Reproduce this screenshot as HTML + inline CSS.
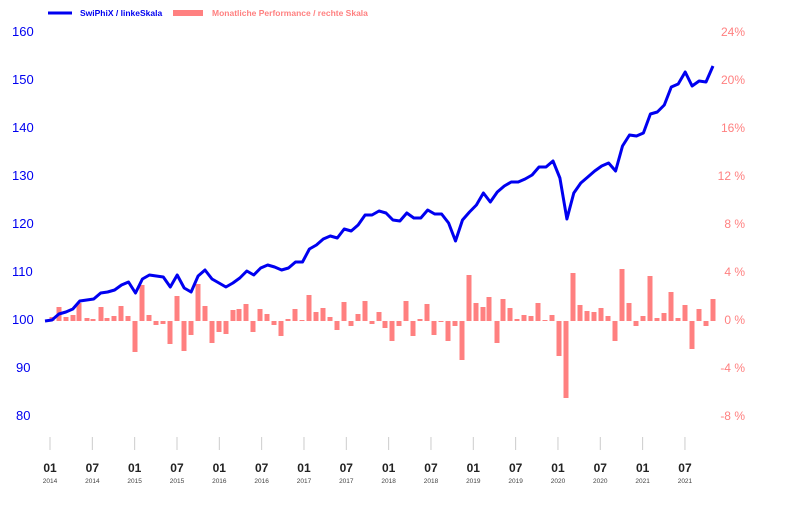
<!DOCTYPE html>
<html><head><meta charset="utf-8"><style>
body{margin:0;background:#fff;}
svg{display:block;font-family:"Liberation Sans",sans-serif;}
</style></head><body>
<svg width="795" height="518" viewBox="0 0 795 518">
<line x1="48" y1="13" x2="72" y2="13" stroke="#0000f0" stroke-width="3"/>
<text x="80" y="16" font-size="8.5" font-weight="bold" fill="#0000f0">SwiPhiX / linkeSkala</text>
<rect x="173" y="10" width="30" height="6" fill="#ff8080"/>
<text x="212" y="16" font-size="8.5" font-weight="bold" fill="#ff8080">Monatliche Performance / rechte Skala</text>
<g font-size="13" fill="#0000f0">
<text x="12" y="36">160</text><text x="12" y="84">150</text><text x="12" y="132">140</text>
<text x="12" y="180">130</text><text x="12" y="228">120</text><text x="12" y="276">110</text>
<text x="12" y="324">100</text><text x="16" y="372">90</text><text x="16" y="420">80</text>
</g>
<g font-size="12" fill="#ff8080" text-anchor="end">
<text x="745" y="36">24%</text><text x="745" y="84">20%</text><text x="745" y="132">16%</text>
<text x="745" y="180">12 %</text><text x="745" y="228">8 %</text><text x="745" y="276">4 %</text>
<text x="745" y="324">0 %</text><text x="745" y="372">-4 %</text><text x="745" y="420">-8 %</text>
</g>
<g fill="#ff8080" id="bars"></g>
<polyline id="ln" fill="none" stroke="#0000f0" stroke-width="3" stroke-linejoin="round"/>
<g id="xt"></g>
</svg>
<script>
var bars=[[52,317],[59,307],[66,317],[73,315],[79,303],[87,318],[93,319],[101,307],[107,318],[114,316],[121,306],[128,316],[135,352],[142,285],[149,315],[156,325],[163,324],[170,344],[177,296],[184,351],[191,335],[198,284],[205,306],[212,343],[219,332],[226,334],[233,310],[239,309],[246,304],[253,332],[260,309],[267,314],[274,325],[281,336],[288,319],[295,309],[302,320],[309,295],[316,312],[323,308],[330,317],[337,330],[344,302],[351,326],[358,314],[365,301],[372,324],[379,312],[385,328],[392,341],[399,326],[406,301],[413,336],[420,319],[427,304],[434,335],[441,322],[448,341],[455,326],[462,360],[469,275],[476,303],[483,307],[489,297],[497,343],[503,299],[510,308],[517,319],[524,315],[531,316],[538,303],[545,320],[552,315],[559,356],[566,398],[573,273],[580,305],[587,311],[594,312],[601,308],[608,316],[615,341],[622,269],[629,303],[636,326],[643,316],[650,276],[657,318],[664,313],[671,292],[678,318],[685,305],[692,349],[699,309],[706,326],[713,299]];
var B=321,s='';
bars.forEach(function(b){var y=Math.min(b[1],B),h=Math.max(Math.abs(b[1]-B),1);s+='<rect x="'+(b[0]-2.5)+'" y="'+y+'" width="5" height="'+h+'"/>';});
document.getElementById('bars').innerHTML=s;
var ly=[321,320,314,312,309,301,300,299,293,292,290,285,282,293,279,275,276,277,287,275,288,292,276,270,279,283,287,283,278,271,275,268,265,267,270,268,262,262,249,245,239,236,238,229,231,225,215,215,211,213,220,221,213,218,218,210,214,214,223,241,220,212,205,193,202,192,186,182,182,179,175,167,167,161,178,219,193,183,177,171,166,163,171,146,135,136,133,114,112,105,87,84,72,86,81,82,66];
var n=ly.length,pts=[];ly.forEach(function(y,i){pts.push((45+668*i/(n-1)).toFixed(1)+','+y);});
document.getElementById('ln').setAttribute('points',pts.join(' '));
var t='',lab=['01','07'];
for(var k=0;k<16;k++){var x=50+42.33*k,yr=2014+Math.floor(k/2);
t+='<line x1="'+x+'" y1="437" x2="'+x+'" y2="450" stroke="#ccc" stroke-width="1"/>';
t+='<text x="'+x+'" y="472" font-size="12" font-weight="bold" fill="#222" text-anchor="middle">'+lab[k%2]+'</text>';
t+='<text x="'+x+'" y="483" font-size="6.5" fill="#444" text-anchor="middle">'+yr+'</text>';}
document.getElementById('xt').innerHTML=t;
</script>
</body></html>
